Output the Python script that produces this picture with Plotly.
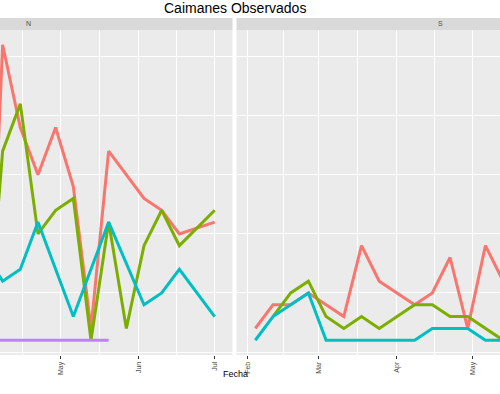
import pandas as pd
import plotly.graph_objects as go

# ---------------- data ----------------
series_names = ["Adulto", "Subadulto", "Juvenil", "Cría"]
series_colors = ["#F8766D", "#7CAE00", "#00BFC4", "#C77CFF"]

# Panel N
n_adulto_dates = ["2019-04-05", "2019-04-08", "2019-04-15", "2019-04-22", "2019-04-29", "2019-05-06",
                  "2019-05-13", "2019-05-20", "2019-06-03", "2019-06-10", "2019-06-17", "2019-07-01"]
n_adulto_vals = [11, 26, 19, 15, 19, 14, 2, 17, 13, 12, 10, 11]

n_subadulto_dates = ["2019-04-05", "2019-04-08", "2019-04-15", "2019-04-22", "2019-04-29", "2019-05-06",
                     "2019-05-13", "2019-05-20", "2019-05-27", "2019-06-03", "2019-06-10", "2019-06-17",
                     "2019-07-01"]
n_subadulto_vals = [9, 17, 21, 10, 12, 13, 1, 11, 2, 9, 12, 9, 12]

n_juvenil_dates = ["2019-04-05", "2019-04-08", "2019-04-15", "2019-04-22", "2019-04-29", "2019-05-06",
                   "2019-05-13", "2019-05-20", "2019-06-03", "2019-06-10", "2019-06-17", "2019-07-01"]
n_juvenil_vals = [7, 6, 7, 11, 7, 3, 7, 11, 4, 5, 7, 3]

n_cria_dates = ["2019-04-05", "2019-04-08", "2019-04-15", "2019-04-22", "2019-04-29", "2019-05-06",
                "2019-05-13", "2019-05-20"]
n_cria_vals = [1, 1, 1, 1, 1, 1, 1, 1]

# Panel S
s_adulto_dates = ["2019-02-04", "2019-02-11", "2019-02-18", "2019-02-25", "2019-03-04", "2019-03-11",
                  "2019-03-18", "2019-03-25", "2019-04-01", "2019-04-08", "2019-04-15", "2019-04-22",
                  "2019-04-29", "2019-05-06", "2019-05-13"]
s_adulto_vals = [2, 4, 4, 5, 4, 3, 9, 6, 5, 4, 5, 8, 2, 9, 6]

s_subadulto_dates = ["2019-02-11", "2019-02-18", "2019-02-25", "2019-03-04", "2019-03-11", "2019-03-18",
                     "2019-03-25", "2019-04-01", "2019-04-08", "2019-04-15", "2019-04-22", "2019-04-29",
                     "2019-05-06", "2019-05-13"]
s_subadulto_vals = [3, 5, 6, 3, 2, 3, 2, 3, 4, 4, 3, 3, 2, 1]

s_juvenil_dates = ["2019-02-04", "2019-02-11", "2019-02-18", "2019-02-25", "2019-03-04", "2019-03-11",
                   "2019-03-18", "2019-03-25", "2019-04-01", "2019-04-08", "2019-04-15", "2019-04-22",
                   "2019-04-29", "2019-05-06", "2019-05-13"]
s_juvenil_vals = [1, 3, 4, 5, 1, 1, 1, 1, 1, 1, 2, 2, 2, 1, 1]

n_tick_vals = ["2019-05-01", "2019-06-01", "2019-07-01"]
n_tick_text = ["May", "Jun", "Jul"]
s_tick_vals = ["2019-02-01", "2019-03-01", "2019-04-01", "2019-05-01"]
s_tick_text = ["Feb", "Mar", "Apr", "May"]
y_major = [0, 10, 20]
y_minor = [5, 15, 25]

panel_n = [(n_adulto_dates, n_adulto_vals), (n_subadulto_dates, n_subadulto_vals),
           (n_juvenil_dates, n_juvenil_vals), (n_cria_dates, n_cria_vals)]
panel_s = [(s_adulto_dates, s_adulto_vals), (s_subadulto_dates, s_subadulto_vals),
           (s_juvenil_dates, s_juvenil_vals), ([], [])]

# ---------------- figure ----------------
W, H = 500, 394
fig = go.Figure()

for i, (d, v) in enumerate(panel_n):
    fig.add_trace(go.Scatter(x=pd.to_datetime(d), y=v, mode="lines", name=series_names[i],
                             line=dict(color=series_colors[i], width=3), xaxis="x", yaxis="y",
                             showlegend=False, hoverinfo="skip"))
for i, (d, v) in enumerate(panel_s):
    if not d:
        continue
    fig.add_trace(go.Scatter(x=pd.to_datetime(d), y=v, mode="lines", name=series_names[i],
                             line=dict(color=series_colors[i], width=3), xaxis="x2", yaxis="y2",
                             showlegend=False, hoverinfo="skip"))

def mid(a, b):
    a, b = pd.Timestamp(a), pd.Timestamp(b)
    return a + (b - a) / 2

n_minor = [mid("2019-04-01", "2019-05-01"), mid("2019-05-01", "2019-06-01"), mid("2019-06-01", "2019-07-01")]
s_minor = [mid("2019-02-01", "2019-03-01"), mid("2019-03-01", "2019-04-01"), mid("2019-04-01", "2019-05-01")]

n_range = [pd.Timestamp("2019-05-01") - pd.Timedelta(days=24.04), pd.Timestamp("2019-05-01") + pd.Timedelta(days=68.05)]
s_range = [pd.Timestamp("2019-02-01") - pd.Timedelta(days=4.43), pd.Timestamp("2019-02-01") + pd.Timedelta(days=99.76)]

panel_top, panel_bot = 30, 355
ydom = [1 - panel_bot / H, 1 - panel_top / H]
xl = [0, 232.5 / W]
xr = [236.5 / W, 1]

tickfont = dict(family="Liberation Sans, Arial, sans-serif", size=7, color="#4D4D4D")

def xaxis_cfg(dom, rng, tv, tt, minor_vals, anchor):
    return dict(domain=dom, range=rng, type="date", tickmode="array", tickvals=tv, ticktext=tt,
                tickangle=-90, tickfont=tickfont, ticks="outside", ticklen=3, tickcolor="#333333",
                tickwidth=1, showgrid=True, gridcolor="white", gridwidth=1.1, zeroline=False,
                showline=False, anchor=anchor,
                minor=dict(tickmode="array", tickvals=minor_vals, showgrid=True, gridcolor="white",
                           gridwidth=0.55, ticks=""))

def yaxis_cfg(anchor):
    return dict(domain=ydom, range=[-0.25, 27.25], tickmode="array", tickvals=y_major,
                showticklabels=False, ticks="", showgrid=True, gridcolor="white", gridwidth=1.1,
                zeroline=False, showline=False, anchor=anchor,
                minor=dict(tickmode="array", tickvals=y_minor, showgrid=True, gridcolor="white",
                           gridwidth=0.55, ticks=""))

fig.update_layout(
    width=W, height=H,
    margin=dict(l=0, r=0, t=0, b=0),
    paper_bgcolor="white",
    plot_bgcolor="#EBEBEB",
    showlegend=False,
    hovermode=False,
    xaxis=xaxis_cfg(xl, n_range, n_tick_vals, n_tick_text, n_minor, "y"),
    yaxis=yaxis_cfg("x"),
    xaxis2=xaxis_cfg(xr, s_range, s_tick_vals, s_tick_text, s_minor, "y2"),
    yaxis2=yaxis_cfg("x2"),
    font=dict(family="Liberation Sans, Arial, sans-serif"),
)

strip_y0 = 1 - 30 / H
strip_y1 = 1 - 18 / H
for dom in (xl, xr):
    fig.add_shape(type="rect", xref="paper", yref="paper", x0=dom[0], x1=dom[1], y0=strip_y0, y1=strip_y1,
                  fillcolor="#D9D9D9", line=dict(width=0), layer="below")

fig.add_annotation(text="N", xref="paper", yref="paper", x=28 / W, y=1 - 24 / H, showarrow=False,
                   font=dict(size=7, color="#4D4D4D"), xanchor="center", yanchor="middle")
fig.add_annotation(text="S", xref="paper", yref="paper", x=440 / W, y=1 - 24 / H, showarrow=False,
                   font=dict(size=7, color="#4D4D4D"), xanchor="center", yanchor="middle")
fig.add_annotation(text="Caimanes Observados", xref="paper", yref="paper", x=235 / W, y=1 - 8 / H,
                   showarrow=False, font=dict(size=14, color="black"), xanchor="center", yanchor="middle")
fig.add_annotation(text="Fecha", xref="paper", yref="paper", x=235 / W, y=1 - 374 / H,
                   showarrow=False, font=dict(size=9, color="black"), xanchor="center", yanchor="middle")

fig.write_html("out.html", config={"displayModeBar": False},
               post_script="document.body.style.margin='0px';document.body.style.overflow='hidden';")
